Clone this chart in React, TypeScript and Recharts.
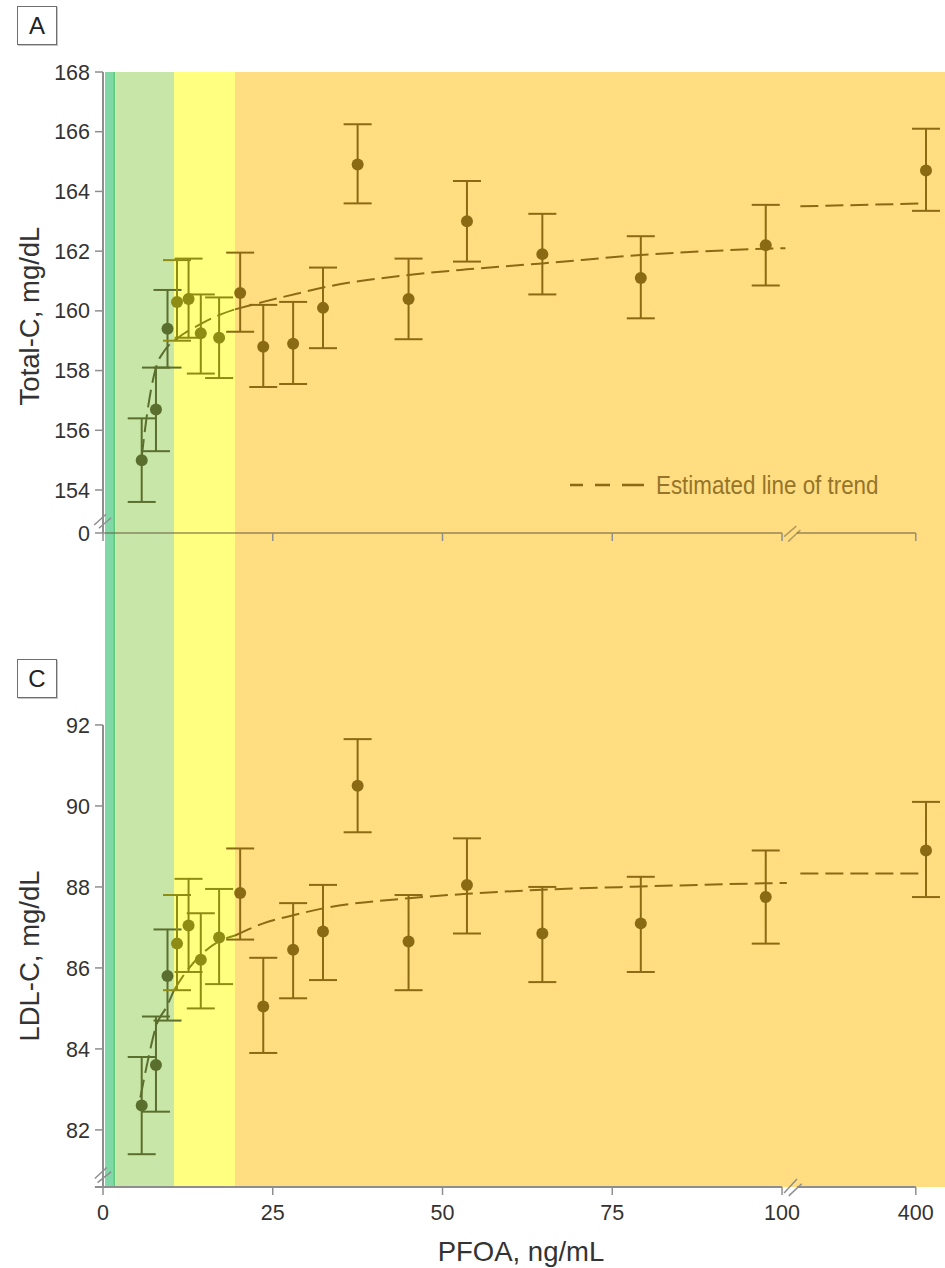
import React from "react";
import {
  ComposedChart, Scatter, Line, XAxis, YAxis, ErrorBar,
  ReferenceArea, ReferenceLine, Label,
} from "recharts";

// ─── Data ────────────────────────────────────────────────────────────────────

// PFOA group positions (ng/mL); the last group lies past the axis break
const PFOA = [5.7, 7.8, 9.5, 10.9, 12.6, 14.4, 17.1, 20.2, 23.6, 28.0, 32.4, 37.5, 45.0, 53.6, 64.7, 79.2, 97.6, 406];

// panel A, total cholesterol (mg/dL) with 95% CI
const TOTAL_C    = [155.0, 156.7, 159.4, 160.3, 160.4, 159.25, 159.1, 160.6, 158.8, 158.9, 160.1, 164.9, 160.4, 163.0, 161.9, 161.1, 162.2, 164.7];
const TOTAL_C_LO = [153.6, 155.3, 158.1, 159.0, 159.1, 157.9, 157.75, 159.3, 157.45, 157.55, 158.75, 163.6, 159.05, 161.65, 160.55, 159.75, 160.85, 163.35];
const TOTAL_C_HI = [156.4, 158.1, 160.7, 161.7, 161.75, 160.55, 160.45, 161.95, 160.2, 160.3, 161.45, 166.25, 161.75, 164.35, 163.25, 162.5, 163.55, 166.1];

// panel C, LDL cholesterol (mg/dL) with 95% CI
const LDL_C    = [82.6, 83.6, 85.8, 86.6, 87.05, 86.2, 86.75, 87.85, 85.05, 86.45, 86.9, 90.5, 86.65, 88.05, 86.85, 87.1, 87.75, 88.9];
const LDL_C_LO = [81.4, 82.45, 84.7, 85.45, 85.9, 85.0, 85.6, 86.7, 83.9, 85.25, 85.7, 89.35, 85.45, 86.85, 85.65, 85.9, 86.6, 87.75];
const LDL_C_HI = [83.8, 84.8, 86.95, 87.8, 88.2, 87.35, 87.95, 88.95, 86.25, 87.6, 88.05, 91.65, 87.8, 89.2, 88.0, 88.25, 88.9, 90.1];

// estimated trend lines
const TREND_A_X = [5.7, 6.4, 7.8, 9.0, 10.46, 12.0, 14.3, 17.0, 19.44, 23.6, 29.0, 32.4, 45.0, 53.6, 64.7, 79.2, 97.6, 100.5];
const TREND_A_Y = [155.1, 156.4, 158.1, 158.65, 159.0, 159.25, 159.55, 159.85, 160.05, 160.3, 160.6, 160.78, 161.2, 161.39, 161.59, 161.87, 162.08, 162.1];
const TREND_C_X = [5.5, 6.4, 7.9, 9.4, 10.46, 12.0, 14.3, 17.0, 19.44, 23.6, 28.0, 32.4, 45.0, 53.6, 64.7, 79.2, 97.6, 100.7];
const TREND_C_Y = [82.8, 83.55, 84.6, 85.05, 85.45, 85.85, 86.3, 86.65, 86.8, 87.1, 87.3, 87.47, 87.72, 87.83, 87.93, 88.01, 88.09, 88.1];
const TREND_UPPER_X = [332, 406];
const TREND_A_UPPER = [163.5, 163.6];
const TREND_C_UPPER = [88.33, 88.33];

// background exposure bands
const BAND_FROM = [0.3, 1.5, 1.8, 10.46, 19.44];
const BAND_TO   = [1.5, 1.8, 10.46, 19.44, 124];
const BAND_FILL = ["#7fd8a6", "#5cc87a", "#c9e6a9", "#ffff80", "#ffdd80"];
// marker colour of points sitting over the green / yellow / orange band
const GROUP_COLOR = ["#5a6e2e", "#8e8c12", "#8b6a14"];

const X_TICKS = [0, 25, 50, 75, 100, 400];
const A_TICKS = [154, 156, 158, 160, 162, 164, 166, 168];
const C_TICKS = [82, 84, 86, 88, 90, 92];

// ─── Helpers ─────────────────────────────────────────────────────────────────

const X_MAX = 124;
const LOWER_END = 101; // last value on the linear part, the break follows
const UPPER_TICK = 400;
const UPPER_POS = 119.7;
const UPPER_STEP = 0.25;
// broken x axis: linear to ~100, then a short segment around 400
const pos = (v: number) => (v <= LOWER_END ? v : UPPER_POS + (v - UPPER_TICK) * UPPER_STEP);
const X_TICK_POS = X_TICKS.map(pos);
const xLabel = (p: number) => String(X_TICKS[X_TICK_POS.indexOf(p)] ?? p);

const CUT1 = BAND_TO[2];
const CUT2 = BAND_TO[3];
const groupOf = (x: number) => (x < CUT1 ? 0 : x < CUT2 ? 1 : 2);
const TREND_KEYS = ["tG", "tY", "tO"];

const A_MIN = 152.56; // y value where panel A meets its "0" axis
const C_MIN = 80.59;
const C_MAX = 96.74;

const AXIS = "#8e8e8e";
const FONT = "'Liberation Sans', Arial, Helvetica, sans-serif";
const TICK_STYLE = { fill: "#333", fontSize: 21.5, fontFamily: FONT };
const DASH = "18 7";

function pointGroups(mean: number[], lo: number[], hi: number[]) {
  const rows = PFOA.map((v, i) => ({
    x: pos(v), y: mean[i], err: [mean[i] - lo[i], hi[i] - mean[i]],
  }));
  return [0, 1, 2].map((g) => rows.filter((r) => groupOf(r.x) === g));
}

// one row per trend x, each band piece in its own column so it can take the band's tint
function trendRows(xs: number[], ys: number[], upper: number[]) {
  const rows: any[] = xs.map((v, i) => {
    const x = pos(v);
    return {
      x,
      tG: x <= CUT1 ? ys[i] : null,
      tY: x >= CUT1 && x <= CUT2 ? ys[i] : null,
      tO: x >= CUT2 ? ys[i] : null,
      tU: null,
    };
  });
  TREND_UPPER_X.forEach((v, i) => rows.push({ x: pos(v), tG: null, tY: null, tO: null, tU: upper[i] }));
  return rows;
}

function bands() {
  return BAND_FROM.map((x1, i) => (
    <ReferenceArea key={`band${i}`} x1={x1} x2={BAND_TO[i]} fill={BAND_FILL[i]} fillOpacity={1} stroke="none" />
  ));
}

function seg(key: string, x1: number, y1: number, x2: number, y2: number, stroke = AXIS, w = 1.5) {
  return (
    <ReferenceLine key={key} segment={[{ x: x1, y: y1 }, { x: x2, y: y2 }]} stroke={stroke} strokeWidth={w} ifOverflow="visible" />
  );
}

function series(groups: any[][]) {
  return [
    ...TREND_KEYS.map((k, g) => (
      <Line key={k} dataKey={k} type="monotoneX" stroke={GROUP_COLOR[g]} strokeWidth={2}
        strokeDasharray={DASH} dot={false} activeDot={false} isAnimationActive={false} legendType="none" />
    )),
    <Line key="tU" dataKey="tU" type="linear" stroke={GROUP_COLOR[2]} strokeWidth={2}
      strokeDasharray={DASH} dot={false} activeDot={false} isAnimationActive={false} legendType="none" />,
    ...groups.map((d, g) => (
      <Scatter key={`p${g}`} data={d} isAnimationActive={false} legendType="none"
        shape={(p: any) => <circle cx={p.cx} cy={p.cy} r={6} fill={GROUP_COLOR[g]} />}>
        <ErrorBar dataKey="err" direction="y" width={14} stroke={GROUP_COLOR[g]} strokeWidth={2} isAnimationActive={false} />
      </Scatter>
    )),
  ];
}

function PanelTag({ text, top }: { text: string; top: number }) {
  return (
    <div style={{
      position: "absolute", left: 17, top, width: 38, height: 37, border: "1px solid #6f6f6f",
      boxShadow: "1px 1px 0 #c4c4c4", display: "flex", alignItems: "center", justifyContent: "center",
      fontFamily: FONT, fontSize: 24, color: "#222", background: "#fff",
    }}>{text}</div>
  );
}

function YTitle({ text, top }: { text: string; top: number }) {
  return (
    <div style={{
      position: "absolute", left: 30, top, transform: "translate(-50%, -50%) rotate(-90deg)",
      whiteSpace: "nowrap", fontFamily: FONT, fontSize: 27.5, color: "#333",
    }}>{text}</div>
  );
}

// ─── Panels ──────────────────────────────────────────────────────────────────

function PanelA() {
  const groups = pointGroups(TOTAL_C, TOTAL_C_LO, TOTAL_C_HI);
  const rows = trendRows(TREND_A_X, TREND_A_Y, TREND_A_UPPER);
  const axisA = "rgba(100,90,60,0.5)";
  return (
    <ComposedChart width={945} height={547} data={rows} margin={{ top: 72, right: 0, bottom: 0, left: 0 }}>
      <XAxis type="number" dataKey="x" domain={[0, X_MAX]} ticks={X_TICK_POS} tickFormatter={() => ""}
        axisLine={false} tickLine={{ stroke: AXIS, strokeWidth: 1.5 }} tickSize={8} height={14} allowDataOverflow interval={0} />
      <YAxis type="number" dataKey="y" domain={[A_MIN, 168]} ticks={[A_MIN, ...A_TICKS]}
        tickFormatter={(v: number) => (v === A_MIN ? "0" : String(v))} width={103} interval={0}
        axisLine={{ stroke: AXIS, strokeWidth: 2 }} tickLine={{ stroke: AXIS, strokeWidth: 1.5 }}
        tickSize={8} tickMargin={5} tick={TICK_STYLE} allowDataOverflow />
      {bands()}
      {seg("ax1", 0, A_MIN, 100, A_MIN, axisA, 2)}
      {seg("ax2", 102.2, A_MIN, UPPER_POS, A_MIN, axisA, 2)}
      {seg("bx1", 100.3, 152.44, 102.1, 152.79, axisA)}
      {seg("bx2", 100.9, 152.27, 102.7, 152.66, axisA)}
      {seg("by1", -1.3, 152.83, 0.45, 153.19)}
      {seg("by2", -0.6, 152.72, 1.2, 153.07)}
      {series(groups)}
    </ComposedChart>
  );
}

function PanelC() {
  const groups = pointGroups(LDL_C, LDL_C_LO, LDL_C_HI);
  const rows = trendRows(TREND_C_X, TREND_C_Y, TREND_C_UPPER);
  return (
    <ComposedChart width={945} height={735} data={rows} margin={{ top: 0, right: 0, bottom: 0, left: 0 }}>
      <XAxis type="number" dataKey="x" domain={[0, X_MAX]} ticks={X_TICK_POS} tickFormatter={xLabel}
        axisLine={false} tickLine={{ stroke: AXIS, strokeWidth: 1.5 }} tickSize={8} tickMargin={10}
        tick={TICK_STYLE} height={81} allowDataOverflow interval={0}>
        <Label value="PFOA, ng/mL" position="insideBottom" offset={7} dx={-3} fill="#333" fontSize={27.5} fontFamily={FONT} />
      </XAxis>
      <YAxis type="number" dataKey="y" domain={[C_MIN, C_MAX]} ticks={C_TICKS} width={103} interval={0}
        axisLine={false} tickLine={{ stroke: AXIS, strokeWidth: 1.5 }}
        tickSize={8} tickMargin={5} tick={TICK_STYLE} allowDataOverflow />
      {bands()}
      {seg("ay", 0, C_MIN, 0, 92, AXIS, 2)}
      {seg("ax1", -1.2, C_MIN, 100, C_MIN, AXIS, 2)}
      {seg("ax2", 102.2, C_MIN, UPPER_POS, C_MIN, AXIS, 2)}
      {seg("bx1", 100.3, 80.44, 102.2, 80.79)}
      {seg("bx2", 101.0, 80.37, 102.9, 80.67)}
      {seg("by1", -1.2, 80.8, 0.55, 81.07)}
      {seg("by2", -0.8, 80.7, 1.2, 80.97)}
      {series(groups)}
    </ComposedChart>
  );
}

function TrendKey() {
  return (
    <div style={{ position: "absolute", left: 570, top: 470, display: "flex", alignItems: "center" }}>
      <svg width={74} height={6} style={{ display: "block" }}>
        <line x1={0} y1={3} x2={74} y2={3} stroke={GROUP_COLOR[2]} strokeWidth={2.5} strokeDasharray="13 12 15 12 22" />
      </svg>
      <span style={{
        marginLeft: 12, fontFamily: FONT, fontSize: 26, color: "#94752a", lineHeight: "30px",
        display: "inline-block", transform: "scaleX(0.86)", transformOrigin: "left center", whiteSpace: "nowrap",
      }}>Estimated line of trend</span>
    </div>
  );
}

export default function App() {
  return (
    <div style={{ position: "absolute", left: 0, top: 0, width: 945, height: 1268, background: "#fff", overflow: "hidden" }}>
      <div style={{ position: "absolute", left: 0, top: 533 }}><PanelC /></div>
      <div style={{ position: "absolute", left: 0, top: 0 }}><PanelA /></div>
      <TrendKey />
      <PanelTag text="A" top={6} />
      <PanelTag text="C" top={659} />
      <YTitle text="Total-C, mg/dL" top={316} />
      <YTitle text="LDL-C, mg/dL" top={956} />
    </div>
  );
}
